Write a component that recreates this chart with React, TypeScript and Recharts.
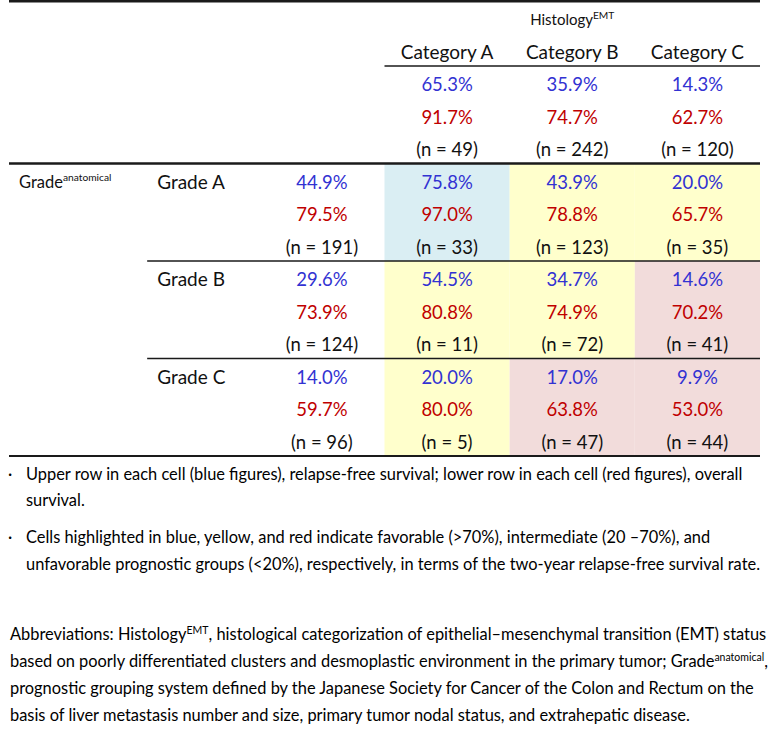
import React from "react";
import { ScatterChart, Scatter, XAxis, YAxis, ReferenceArea } from "recharts";

// table structure
const columns = ["label", "grade", "all", "A", "B", "C"];
const categoryKeys = ["A", "B", "C"];
const categoryNames = ["Category A", "Category B", "Category C"];
const gradeKeys = ["A", "B", "C"];
const gradeNames = ["Grade A", "Grade B", "Grade C"];
const blocks = ["all", ...gradeKeys];
const rows = ["histology", "category", ...blocks.flatMap((b) => [`${b}-rfs`, `${b}-os`, `${b}-n`])];

// all patients, by Histology(EMT) category
const categoryRfs = [65.3, 35.9, 14.3];
const categoryOs = [91.7, 74.7, 62.7];
const categoryN = [49, 242, 120];

// all patients, by Grade(anatomical)
const gradeRfs = [44.9, 29.6, 14.0];
const gradeOs = [79.5, 73.9, 59.7];
const gradeN = [191, 124, 96];

// grade x category
const cellRfs = [
  [75.8, 43.9, 20.0],
  [54.5, 34.7, 14.6],
  [20.0, 17.0, 9.9],
];
const cellOs = [
  [97.0, 78.8, 65.7],
  [80.8, 74.9, 70.2],
  [80.0, 63.8, 53.0],
];
const cellN = [
  [33, 123, 35],
  [11, 72, 41],
  [5, 47, 44],
];

const notes = [
  [
    "Upper row in each cell (blue figures), relapse-free survival; lower row in each cell (red figures), overall",
    "survival.",
  ],
  [
    "Cells highlighted in blue, yellow, and red indicate favorable (>70%), intermediate (20 \u201370%), and",
    "unfavorable prognostic groups (<20%), respectively, in terms of the two-year relapse-free survival rate.",
  ],
];
// {...} marks superscript
const abbreviations = [
  "Abbreviations: Histology{EMT}, histological categorization of epithelial\u2013mesenchymal transition (EMT) status",
  "based on poorly differentiated clusters and desmoplastic environment in the primary tumor; Grade{anatomical},",
  "prognostic grouping system defined by the Japanese Society for Cancer of the Colon and Rectum on the",
  "basis of liver metastasis number and size, primary tumor nodal status, and extrahepatic disease.",
];

const FONT = "Lato, 'Noto Sans', sans-serif";
const BLUE = "#3232d2";
const RED = "#c00000";
const INK = "#111";
const FILLS: Record<string, string> = {
  favorable: "#daeef3",
  intermediate: "#ffffcc",
  unfavorable: "#f2dcdb",
};

const groupOf = (rfs: number) => (rfs > 70 ? "favorable" : rfs >= 20 ? "intermediate" : "unfavorable");
const pct = (v: number) => `${v.toFixed(1)}%`;

// keeps the category order of both axes
const scaffold = rows.map((row, i) => ({ row, col: columns[Math.min(i, columns.length - 1)] }));

const rfsPoints = [
  ...categoryKeys.map((c, j) => ({ col: c, row: "all-rfs", text: pct(categoryRfs[j]) })),
  ...gradeKeys.map((g, i) => ({ col: "all", row: `${g}-rfs`, text: pct(gradeRfs[i]) })),
  ...gradeKeys.flatMap((g, i) => categoryKeys.map((c, j) => ({ col: c, row: `${g}-rfs`, text: pct(cellRfs[i][j]) }))),
];
const osPoints = [
  ...categoryKeys.map((c, j) => ({ col: c, row: "all-os", text: pct(categoryOs[j]) })),
  ...gradeKeys.map((g, i) => ({ col: "all", row: `${g}-os`, text: pct(gradeOs[i]) })),
  ...gradeKeys.flatMap((g, i) => categoryKeys.map((c, j) => ({ col: c, row: `${g}-os`, text: pct(cellOs[i][j]) }))),
];
const nPoints = [
  ...categoryKeys.map((c, j) => ({ col: c, row: "all-n", text: `(n = ${categoryN[j]})` })),
  ...gradeKeys.map((g, i) => ({ col: "all", row: `${g}-n`, text: `(n = ${gradeN[i]})` })),
  ...gradeKeys.flatMap((g, i) => categoryKeys.map((c, j) => ({ col: c, row: `${g}-n`, text: `(n = ${cellN[i][j]})` }))),
];
const shadedCells = gradeKeys.flatMap((g, i) =>
  categoryKeys.map((c, j) => ({ col: c, grade: g, group: groupOf(cellRfs[i][j]) }))
);

const categoryHeads = categoryKeys.map((c, j) => ({ col: c, row: "category", text: categoryNames[j] }));
const gradeHeads = gradeKeys.map((g, i) => ({ col: "grade", row: `${g}-rfs`, text: gradeNames[i] }));
const histologyTitle = [{ col: "B", row: "histology", text: "Histology", sup: "EMT" }];
const gradeTitle = [{ col: "label", row: "A-rfs", text: "Grade", sup: "anatomical" }];

const rules = [
  { from: "label", to: "C", row: "histology", edge: "top", weight: 2.5, inset: 0 },
  { from: "A", to: "C", row: "all-rfs", edge: "top", weight: 1.3, inset: 0 },
  { from: "label", to: "C", row: "A-rfs", edge: "top", weight: 2.3, inset: 0 },
  { from: "grade", to: "C", row: "B-rfs", edge: "top", weight: 1.3, inset: 13 },
  { from: "grade", to: "C", row: "C-rfs", edge: "top", weight: 1.3, inset: 13 },
  { from: "label", to: "C", row: "C-n", edge: "bottom", weight: 2, inset: 0 },
];

const COL_W = 751 / columns.length;

const centered = (color: string, size: number) => (p: any) => (
  <text x={p.cx} y={p.cy + size * 0.36 + 2.4} textAnchor="middle" fill={color} fontSize={size} fontFamily={FONT}>
    {p.payload.text}
  </text>
);

const leftText = (size: number, inset: number, supRatio = 0.68) => (p: any) => (
  <text x={p.cx - COL_W / 2 + inset} y={p.cy + size * 0.36 + 2.4} fill={INK} fontSize={size} fontFamily={FONT}>
    {p.payload.text}
    {p.payload.sup && (
      <tspan dy={-size * 0.42} fontSize={size * supRatio}>
        {p.payload.sup}
      </tspan>
    )}
  </text>
);

const titleText = (size: number) => (p: any) => (
  <text x={p.cx} y={p.cy + size * 0.36 + 2.4} textAnchor="middle" fill={INK} fontSize={size} fontFamily={FONT}>
    {p.payload.text}
    <tspan dy={-size * 0.42} fontSize={size * 0.68}>
      {p.payload.sup}
    </tspan>
  </text>
);

const ruleShape = (edge: string, weight: number, inset: number) => (p: any) => {
  const y = edge === "top" ? Math.max(p.y, weight / 2) : p.y + p.height;
  return <line x1={p.x + inset} x2={p.x + p.width} y1={y} y2={y} stroke="#1a1a1a" strokeWidth={weight} />;
};

const NOTE_SIZE = 16.4;

function RichLine({ x, y, text }: { x: number; y: number; text: string }) {
  const parts = text.split(/\{(.*?)\}/);
  return (
    <text x={x} y={y} fontSize={NOTE_SIZE} fontFamily={FONT} fill="#000">
      {parts.map((t, i) =>
        i % 2 === 1 ? (
          <tspan key={i} dy={-6} fontSize={10.5}>
            {t}
          </tspan>
        ) : (
          <tspan key={i} dy={i > 0 ? 6 : 0}>
            {t}
          </tspan>
        )
      )}
    </text>
  );
}

export default function App() {
  const noteBaselines = [[480, 506], [543, 570]];
  const abbrBaselines = [640, 667, 694, 721];
  return (
    <div style={{ position: "fixed", left: 0, top: 0, width: 776, height: 743, background: "#fff", overflow: "hidden" }}>
      <ScatterChart width={776} height={470} margin={{ top: 1, right: 16, bottom: 14, left: 9 }}>
        <XAxis type="category" dataKey="col" allowDuplicatedCategory={false} hide />
        <YAxis type="category" dataKey="row" allowDuplicatedCategory={false} reversed hide />
        {shadedCells.map((s) => (
          <ReferenceArea
            key={`${s.grade}-${s.col}`}
            x1={s.col}
            x2={s.col}
            y1={`${s.grade}-rfs`}
            y2={`${s.grade}-n`}
            fill={FILLS[s.group]}
            fillOpacity={1}
            stroke="none"
          />
        ))}
        {rules.map((r, i) => (
          <ReferenceArea
            key={i}
            x1={r.from}
            x2={r.to}
            y1={r.row}
            y2={r.row}
            ifOverflow="visible"
            shape={ruleShape(r.edge, r.weight, r.inset)}
          />
        ))}
        <Scatter data={scaffold} shape={() => <g />} isAnimationActive={false} />
        <Scatter data={histologyTitle} shape={titleText(15)} isAnimationActive={false} />
        <Scatter data={categoryHeads} shape={centered(INK, 19)} isAnimationActive={false} />
        <Scatter data={gradeTitle} shape={leftText(16.5, 10, 0.62)} isAnimationActive={false} />
        <Scatter data={gradeHeads} shape={leftText(19, 23)} isAnimationActive={false} />
        <Scatter data={rfsPoints} shape={centered(BLUE, 18.5)} isAnimationActive={false} />
        <Scatter data={osPoints} shape={centered(RED, 18.5)} isAnimationActive={false} />
        <Scatter data={nPoints} shape={centered(INK, 18.5)} isAnimationActive={false} />
      </ScatterChart>
      <svg width={776} height={743} style={{ position: "absolute", left: 0, top: 0, pointerEvents: "none" }}>
        {notes.map((lines, i) =>
          lines.map((line, k) => (
            <g key={`${i}-${k}`}>
              {k === 0 && (
                <text x={8} y={noteBaselines[i][k]} fontSize={NOTE_SIZE} fontFamily={FONT} fill="#000">
                  {"\u00b7"}
                </text>
              )}
              <RichLine x={26} y={noteBaselines[i][k]} text={line} />
            </g>
          ))
        )}
        {abbreviations.map((line, i) => (
          <RichLine key={i} x={10} y={abbrBaselines[i]} text={line} />
        ))}
      </svg>
    </div>
  );
}
